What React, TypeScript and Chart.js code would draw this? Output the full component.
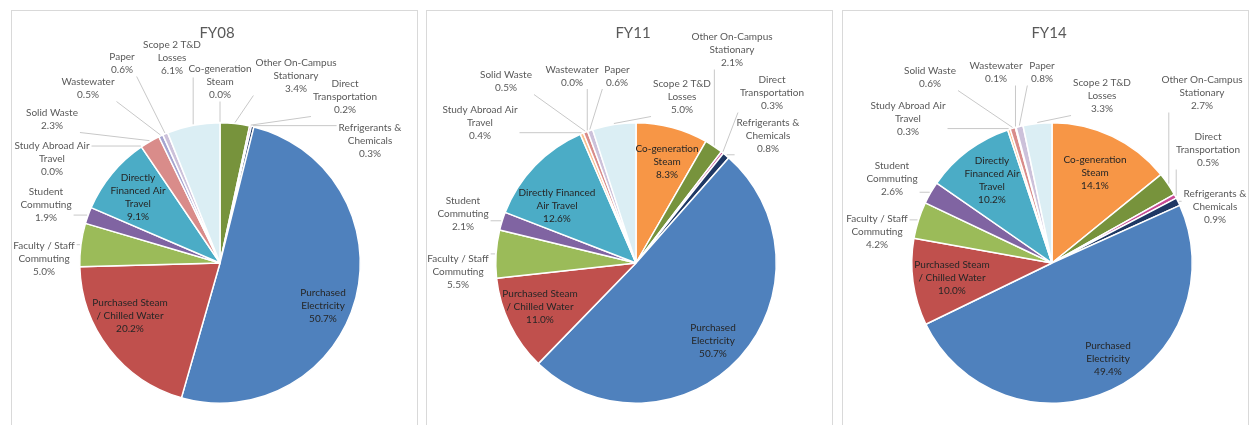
import React, { useEffect, useRef } from "react";
import { Chart, registerables } from "chart.js";

Chart.register(...registerables);

// ---------- DATA ----------
const categories = [
  "Co-generation Steam",
  "Other On-Campus Stationary",
  "Direct Transportation",
  "Refrigerants & Chemicals",
  "Purchased Electricity",
  "Purchased Steam / Chilled Water",
  "Faculty / Staff Commuting",
  "Student Commuting",
  "Directly Financed Air Travel",
  "Study Abroad Air Travel",
  "Solid Waste",
  "Wastewater",
  "Paper",
  "Scope 2 T&D Losses",
];
const chartTitles = ["FY08", "FY11", "FY14"];
const fy08Values = [0.0, 3.4, 0.2, 0.3, 50.7, 20.2, 5.0, 1.9, 9.1, 0.0, 2.3, 0.5, 0.6, 6.1];
const fy11Values = [8.3, 2.1, 0.3, 0.8, 50.7, 11.0, 5.5, 2.1, 12.6, 0.4, 0.5, 0.0, 0.6, 5.0];
const fy14Values = [14.1, 2.7, 0.5, 0.9, 49.4, 10.0, 4.2, 2.6, 10.2, 0.3, 0.6, 0.1, 0.8, 3.3];

// ---------- STYLE / LAYOUT ----------
const sliceColors = [
  "#F79646",
  "#77933C",
  "#C84B95",
  "#1F3864",
  "#4F81BD",
  "#C0504D",
  "#9BBB59",
  "#8064A2",
  "#4BACC6",
  "#FAC090",
  "#D98C8A",
  "#A5A5D0",
  "#CCC1DA",
  "#DBEEF4",
];

const namesA = [
  "Co-generation|Steam",
  "Other On-Campus|Stationary",
  "Direct|Transportation",
  "Refrigerants &|Chemicals",
  "Purchased|Electricity",
  "Purchased Steam|/ Chilled Water",
  "Faculty / Staff|Commuting",
  "Student|Commuting",
  "Directly|Financed Air|Travel",
  "Study Abroad Air|Travel",
  "Solid Waste",
  "Wastewater",
  "Paper",
  "Scope 2 T&D|Losses",
];
const namesB = namesA.map((n, i) => (i === 8 ? "Directly Financed|Air Travel" : n));

// label centre offsets from pie centre (px)
const pos08 = [
  [0, -181], [76, -187], [125, -166], [150, -122], [103, 43], [-90, 53], [-176, -4],
  [-174, -58], [-82, -66], [-168, -104], [-168, -143.5], [-132, -174.5], [-98, -199.5], [-48, -205],
];
const pos11 = [
  [31, -101], [96, -213], [136, -170], [132, -127], [77, 78], [-96, 44], [-178, 9],
  [-173, -49], [-79, -57], [-156, -140], [-130, -181.5], [-64, -187], [-19, -187], [46, -166],
];
const pos14 = [
  [43, -90], [150, -170], [156, -113], [163, -56], [56, 96], [-100, 15], [-175, -31],
  [-160, -84], [-60, -82.5], [-144, -144], [-122, -185.5], [-56, -190.5], [-10, -190.5], [50, -167],
];
const inside08 = [4, 5, 8];
const inside11 = [0, 4, 5, 8];
const inside14 = [0, 4, 5, 8];

const labelFont = 'Lato, "Open Sans", sans-serif';
const titleFont = 'Lato, "Open Sans", sans-serif';

function makeLabelPlugin(title: string, values: number[], names: string[], pos: number[][], inside: number[]) {
  return {
    id: "pieLabels",
    afterDraw(chart: any) {
      const ctx: CanvasRenderingContext2D = chart.ctx;
      const arcs = chart.getDatasetMeta(0).data as any[];
      const a0 = arcs[0];
      const cx = a0.x;
      const cy = a0.y;
      const R = a0.outerRadius;
      ctx.save();
      ctx.textAlign = "center";
      ctx.textBaseline = "middle";
      ctx.fillStyle = "#595959";
      ctx.font = "15px " + titleFont;
      ctx.fillText(title, cx - 3, 22);
      ctx.font = "10px " + labelFont;
      const LH = 13;
      arcs.forEach((arc, i) => {
        const lines = names[i].split("|").concat([values[i].toFixed(1) + "%"]);
        const lx = cx + pos[i][0];
        const ly = cy + pos[i][1];
        const isIn = inside.includes(i);
        const w = Math.max(...lines.map((l) => ctx.measureText(l).width));
        const h = lines.length * LH;
        if (!isIn) {
          const mid = (arc.startAngle + arc.endAngle) / 2;
          const px = cx + (R + 1) * Math.cos(mid);
          const py = cy + (R + 1) * Math.sin(mid);
          const l = lx - w / 2 - 2;
          const r = lx + w / 2 + 2;
          const t = ly - h / 2;
          const b = ly + h / 2;
          const qx = Math.min(Math.max(px, l), r);
          const qy = Math.min(Math.max(py, t), b);
          ctx.strokeStyle = "#C8C8C8";
          ctx.lineWidth = 1;
          ctx.beginPath();
          ctx.moveTo(qx, qy);
          ctx.lineTo(px, py);
          ctx.stroke();
        }
        ctx.fillStyle = isIn ? "#262626" : "#595959";
        lines.forEach((s, k) => ctx.fillText(s, lx, ly + (k - (lines.length - 1) / 2) * LH));
      });
      ctx.restore();
    },
  };
}

const CW = 405;
const CH = 418;

function PiePanel(props: {
  left: number;
  cxRel: number;
  title: string;
  values: number[];
  names: string[];
  pos: number[][];
  inside: number[];
}) {
  const ref = useRef<HTMLCanvasElement>(null);
  useEffect(() => {
    const canvas = ref.current!;
    const cx = props.cxRel;
    const cy = 252;
    const R = 141;
    const chart = new Chart(canvas, {
      type: "pie",
      data: {
        labels: categories,
        datasets: [
          {
            data: props.values,
            backgroundColor: sliceColors,
            borderColor: "#FFFFFF",
            borderWidth: 1.5,
            hoverOffset: 0,
          },
        ],
      },
      options: {
        responsive: false,
        animation: false,
        devicePixelRatio: 1,
        events: [],
        layout: {
          padding: { left: cx - R, top: cy - R, right: CW - cx - R, bottom: CH - cy - R },
        },
        plugins: {
          legend: { display: false },
          tooltip: { enabled: false },
          title: { display: false },
        },
      },
      plugins: [makeLabelPlugin(props.title, props.values, props.names, props.pos, props.inside)],
    } as any);
    return () => chart.destroy();
  }, []);
  return (
    <div
      style={{
        position: "absolute",
        left: props.left,
        top: 10,
        width: CW,
        height: CH,
        border: "1px solid #D9D9D9",
        background: "#FFFFFF",
      }}
    >
      <canvas ref={ref} width={CW} height={CH} style={{ display: "block" }} />
    </div>
  );
}

export default function App() {
  return (
    <div
      style={{
        position: "fixed",
        left: 0,
        top: 0,
        width: 1251,
        height: 425,
        overflow: "hidden",
        background: "#FFFFFF",
      }}
    >
      <PiePanel left={11} cxRel={208} title={chartTitles[0]} values={fy08Values} names={namesA} pos={pos08} inside={inside08} />
      <PiePanel left={426} cxRel={209} title={chartTitles[1]} values={fy11Values} names={namesB} pos={pos11} inside={inside11} />
      <PiePanel left={842} cxRel={209} title={chartTitles[2]} values={fy14Values} names={namesA} pos={pos14} inside={inside14} />
    </div>
  );
}
